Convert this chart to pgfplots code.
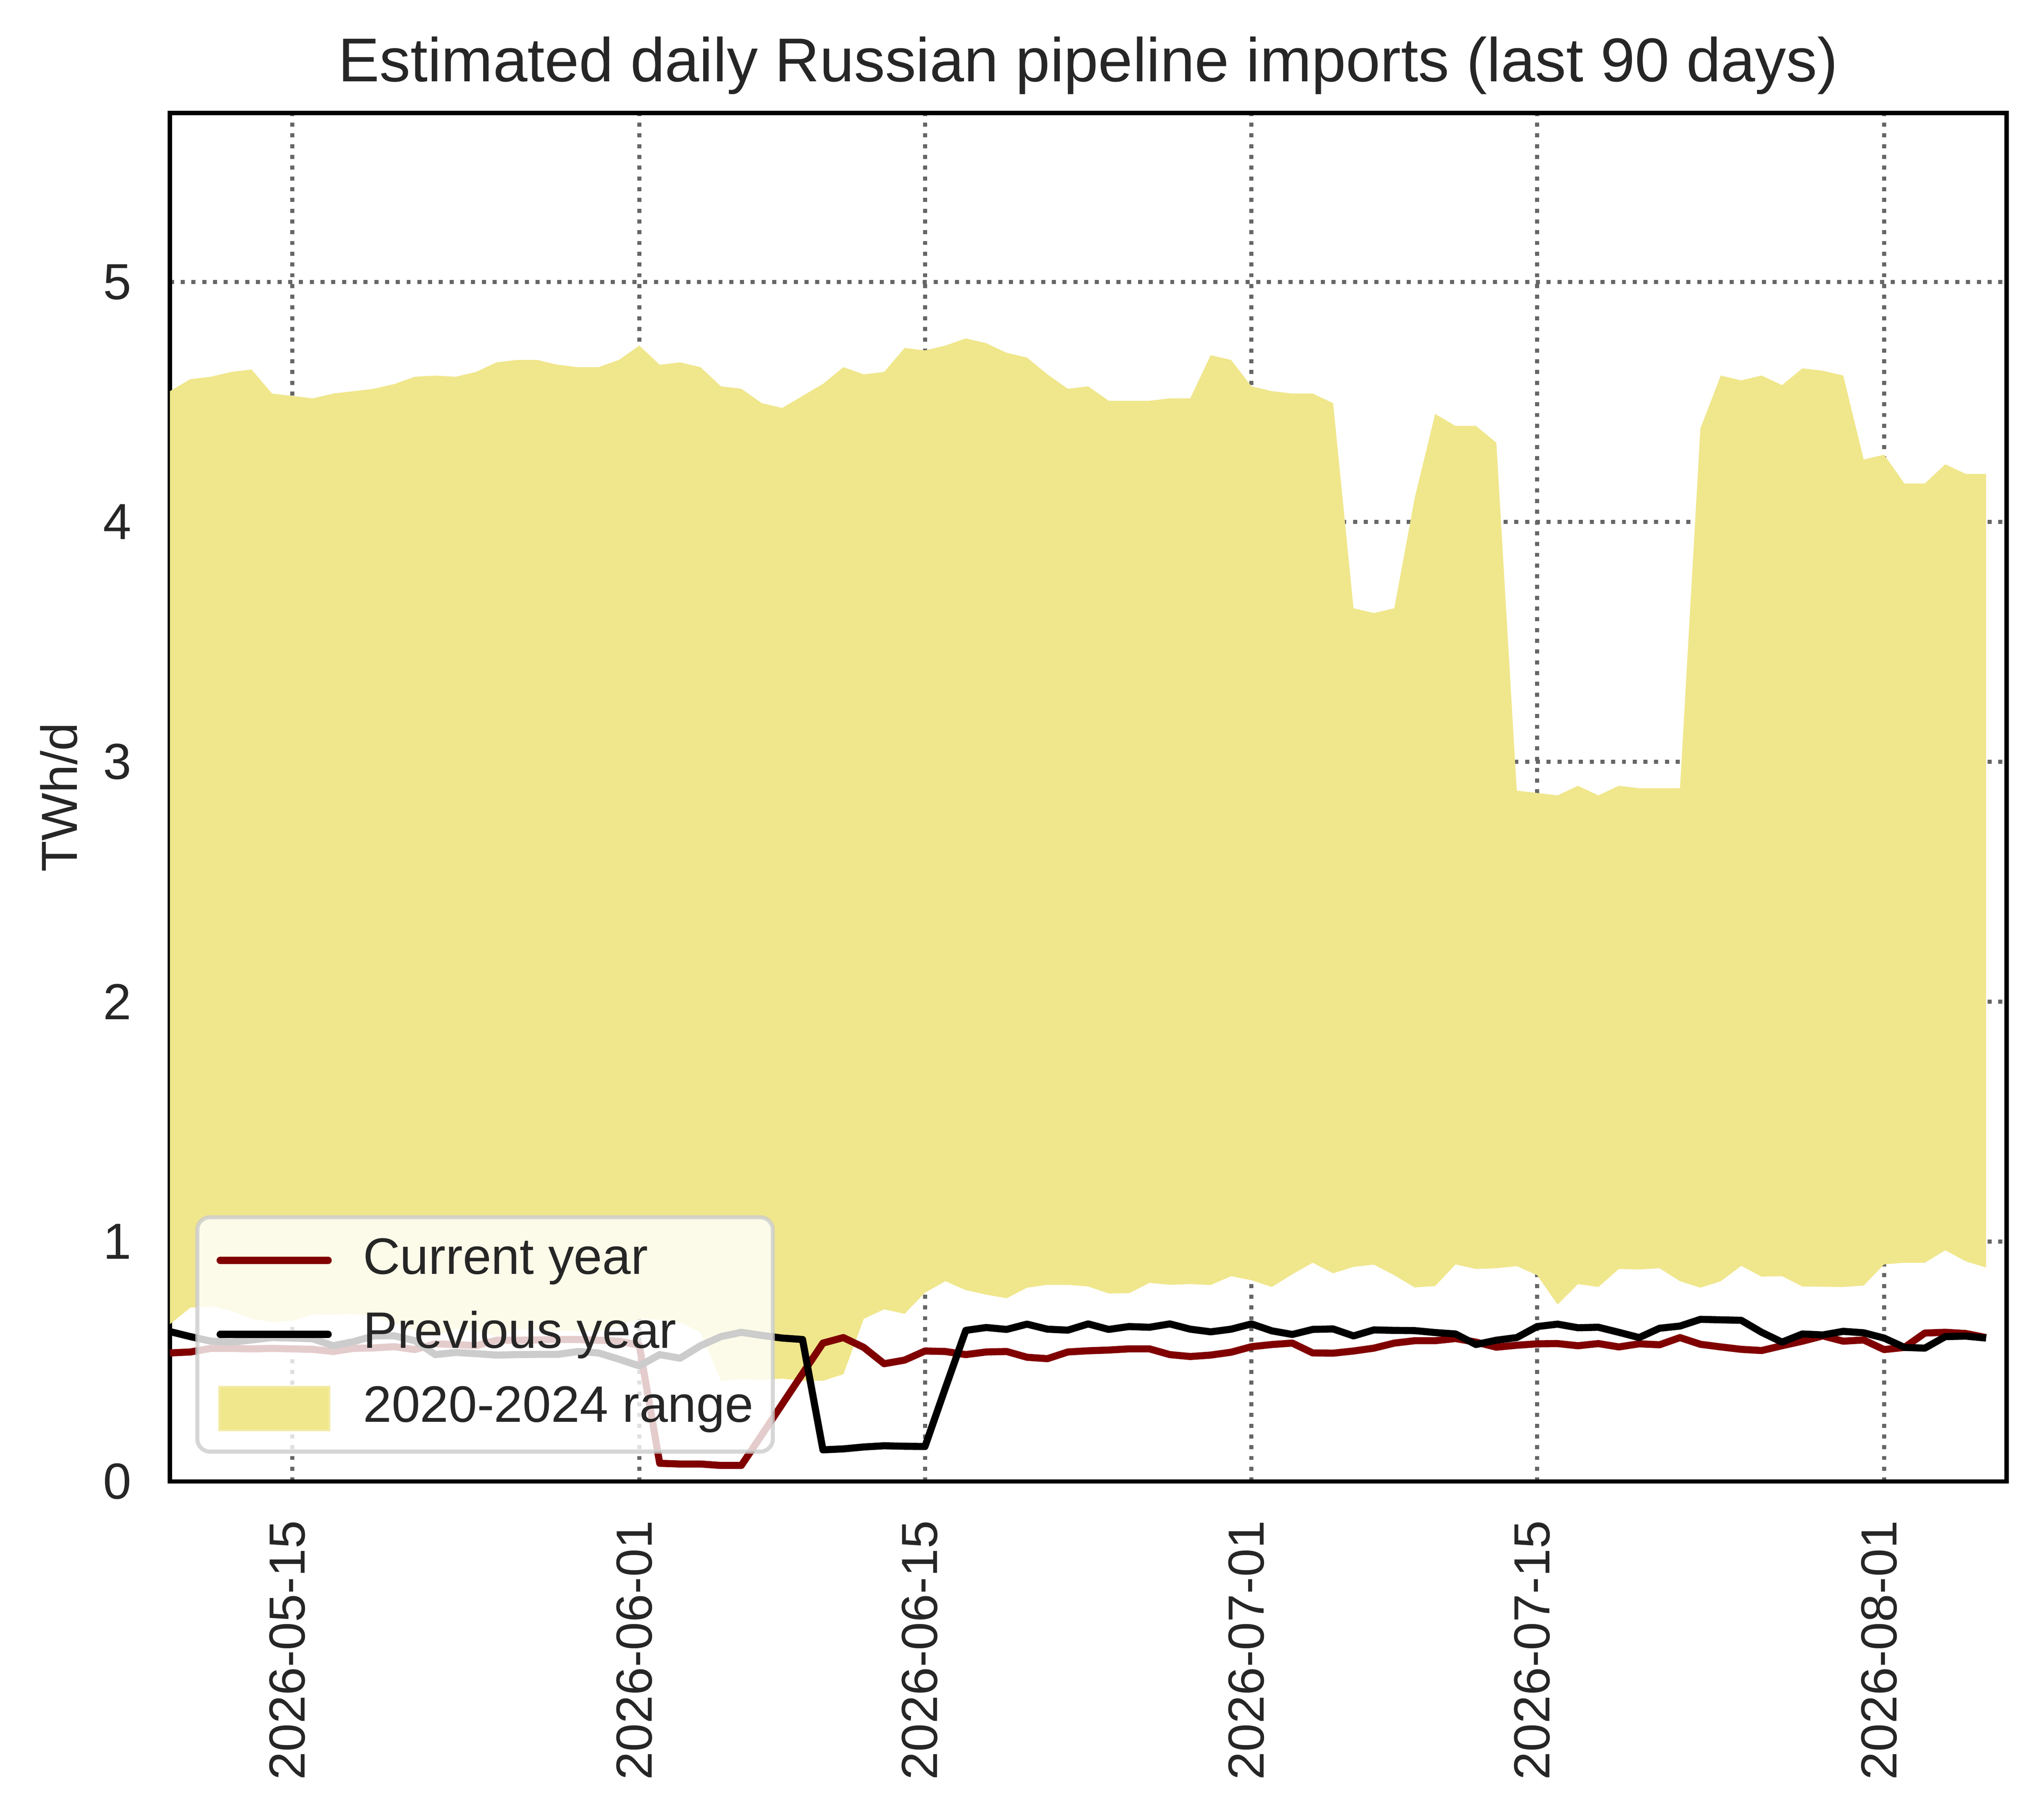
\documentclass[border=0pt]{standalone}
\usepackage{fontspec}
\setmainfont{Liberation Sans}
\usepackage{pgfplots}
\pgfplotsset{compat=1.18}
\usepackage{pgfplotstable}
\usepgfplotslibrary{fillbetween}
\definecolor{khaki}{HTML}{F0E68C}
\definecolor{maroonc}{HTML}{800000}
\definecolor{txt}{HTML}{262626}
\definecolor{gridc}{HTML}{666666}
\definecolor{legedge}{HTML}{CCCCCC}

\pgfplotstableread{
d up lo cur prev
0 4.545 0.656 0.536 0.625
1 4.595 0.725 0.540 0.604
2 4.605 0.731 0.555 0.585
3 4.625 0.712 0.555 0.581
4 4.635 0.678 0.553 0.590
5 4.535 0.665 0.555 0.600
6 4.525 0.671 0.553 0.598
7 4.515 0.697 0.551 0.595
8 4.535 0.697 0.542 0.566
9 4.545 0.698 0.555 0.583
10 4.555 0.688 0.557 0.607
11 4.575 0.657 0.562 0.607
12 4.605 0.630 0.550 0.587
13 4.610 0.606 0.574 0.529
14 4.605 0.637 0.571 0.538
15 4.625 0.629 0.566 0.533
16 4.665 0.606 0.589 0.527
17 4.675 0.634 0.589 0.529
18 4.675 0.632 0.590 0.530
19 4.655 0.629 0.592 0.530
20 4.645 0.627 0.592 0.542
21 4.645 0.624 0.589 0.536
22 4.675 0.650 0.585 0.510
23 4.735 0.678 0.568 0.482
24 4.655 0.675 0.076 0.529
25 4.665 0.663 0.073 0.514
26 4.645 0.622 0.073 0.566
27 4.565 0.420 0.067 0.604
28 4.555 0.426 0.067 0.622
29 4.495 0.424 0.194 0.609
30 4.475 0.429 0.322 0.598
31 4.525 0.420 0.450 0.592
32 4.575 0.420 0.577 0.132
33 4.645 0.447 0.600 0.136
34 4.615 0.678 0.559 0.144
35 4.625 0.718 0.491 0.149
36 4.725 0.699 0.506 0.147
37 4.715 0.787 0.544 0.146
38 4.735 0.835 0.542 0.390
39 4.765 0.798 0.529 0.630
40 4.745 0.779 0.540 0.642
41 4.705 0.764 0.542 0.634
42 4.685 0.808 0.518 0.656
43 4.615 0.820 0.512 0.635
44 4.555 0.820 0.540 0.631
45 4.565 0.813 0.545 0.657
46 4.505 0.784 0.548 0.634
47 4.505 0.785 0.553 0.646
48 4.505 0.828 0.553 0.643
49 4.515 0.820 0.529 0.657
50 4.515 0.823 0.521 0.635
51 4.695 0.819 0.527 0.624
52 4.675 0.856 0.539 0.635
53 4.565 0.839 0.562 0.657
54 4.545 0.811 0.571 0.628
55 4.535 0.864 0.577 0.613
56 4.535 0.912 0.536 0.634
57 4.495 0.868 0.535 0.636
58 3.640 0.895 0.544 0.607
59 3.620 0.904 0.556 0.632
60 3.640 0.860 0.577 0.630
61 4.100 0.809 0.587 0.629
62 4.450 0.815 0.587 0.621
63 4.400 0.905 0.596 0.615
64 4.400 0.886 0.581 0.571
65 4.330 0.889 0.560 0.589
66 2.880 0.898 0.568 0.600
67 2.870 0.860 0.574 0.646
68 2.860 0.738 0.575 0.656
69 2.900 0.823 0.566 0.641
70 2.860 0.811 0.575 0.643
71 2.900 0.886 0.561 0.622
72 2.890 0.884 0.574 0.600
73 2.890 0.889 0.570 0.639
74 2.890 0.835 0.600 0.648
75 4.390 0.808 0.572 0.676
76 4.610 0.835 0.561 0.674
77 4.590 0.899 0.551 0.672
78 4.610 0.854 0.546 0.622
79 4.570 0.856 0.566 0.581
80 4.640 0.813 0.585 0.615
81 4.630 0.812 0.607 0.611
82 4.610 0.811 0.585 0.626
83 4.260 0.817 0.590 0.620
84 4.280 0.905 0.550 0.598
85 4.160 0.912 0.559 0.559
86 4.160 0.912 0.619 0.556
87 4.240 0.964 0.622 0.604
88 4.200 0.918 0.617 0.606
89 4.200 0.892 0.600 0.598
}\data

\begin{document}
\fontsize{10}{12}\selectfont
\begin{tikzpicture}
\begin{axis}[
  name=ax,
  scale only axis,
  width=362pt, height=269.8pt,
  xmin=0, xmax=90, ymin=0, ymax=5.704,
  xtick={6,23,37,53,67,84},
  xticklabels={2026-05-15,2026-06-01,2026-06-15,2026-07-01,2026-07-15,2026-08-01},
  ytick={0,1,2,3,4,5},
  major tick length=0pt,
  grid=major,
  major grid style={gridc, line width=0.8pt, dash pattern=on 0.8pt off 1.32pt},
  axis line style={black, line width=0.85pt},
  /pgf/number format/assume math mode=true,
  tick label style={font=\fontsize{10}{12}\selectfont, text=txt},
  xticklabel style={xshift=-1pt, yshift=-7.5pt, rotate=90, anchor=east, inner sep=0pt},
  yticklabel style={xshift=-7.4pt, anchor=east, inner sep=0pt},
  title={Estimated daily Russian pipeline imports (last 90 days)},
  every axis title/.style={at={(axis description cs:0.5,1.023)}, anchor=base, inner sep=0pt,
    font=\fontsize{12.2}{14.6}\selectfont, text=txt},
  ylabel={TWh/d},
  ylabel style={at={(axis description cs:-0.0506,0.5)}, anchor=base, inner sep=0pt,
    font=\fontsize{10}{12}\selectfont, text=txt},
  legend style={at={(axis description cs:0.0138,0.0204)}, anchor=south west,
    fill=white, fill opacity=0.8, draw opacity=0.8, text opacity=1,
    draw=legedge, line width=0.8pt, rounded corners=2.5pt,
    inner xsep=3.8pt, inner ysep=3.7pt,
    font=\fontsize{10.1}{12}\selectfont, text=txt,
    row sep=5pt, column sep=6.2pt,
    nodes={inner sep=0pt, text height=7.5pt, text depth=2.1pt}},
  legend cell align=left,
]
\addlegendimage{legend image code/.code={\draw[maroonc, line width=1.4pt, line cap=round, draw opacity=1, sharp corners] (0pt,0pt) -- (21.3pt,0pt);}}
\addlegendentry{Current year}
\addlegendimage{legend image code/.code={\draw[black, line width=1.4pt, line cap=round, draw opacity=1, sharp corners] (0pt,0pt) -- (21.3pt,0pt);}}
\addlegendentry{Previous year}
\addlegendimage{legend image code/.code={\fill[khaki, fill opacity=1, sharp corners] (0pt,-4.05pt) rectangle (21.3pt,4.05pt);}}
\addlegendentry{2020-2024 range}

\addplot[name path=up, draw=none, forget plot] table[x=d, y=up] {\data};
\addplot[name path=lo, draw=none, forget plot] table[x=d, y=lo] {\data};
\addplot[khaki, draw=none, forget plot] fill between[of=up and lo];
\addplot[maroonc, line width=1.4pt, line join=round, forget plot] table[x=d, y=cur] {\data};
\addplot[black, line width=1.4pt, line join=round, forget plot] table[x=d, y=prev] {\data};
\end{axis}
\pgfresetboundingbox
\path[use as bounding box] ([shift={(-33.5pt,-66.1pt)}]ax.south west) rectangle ([shift={(7.4pt,22.3pt)}]ax.north east);
\end{tikzpicture}
\end{document}
